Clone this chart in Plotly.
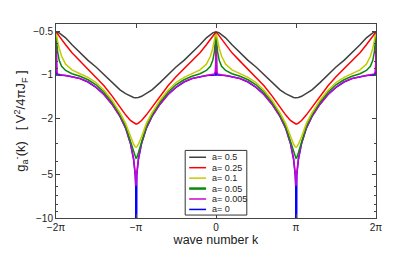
import plotly.graph_objects as go

# wave number k in units of pi
k_over_pi = [
    -2, -1.996, -1.99, -1.98, -1.96, -1.93, -1.88, -1.8, -1.7, -1.6, -1.5, -1.4, -1.3, -1.2, -1.13, -1.07, -1.03, -1.01, -1.003, -1.0,
    -0.997, -0.99, -0.97, -0.93, -0.87, -0.8, -0.7, -0.6, -0.5, -0.4, -0.3, -0.2, -0.12, -0.07, -0.04, -0.02, -0.01, -0.004, 0,
    0.004, 0.01, 0.02, 0.04, 0.07, 0.12, 0.2, 0.3, 0.4, 0.5, 0.6, 0.7, 0.8, 0.87, 0.93, 0.97, 0.99, 0.997, 1.0,
    1.003, 1.01, 1.03, 1.07, 1.13, 1.2, 1.3, 1.4, 1.5, 1.6, 1.7, 1.8, 1.88, 1.93, 1.96, 1.98, 1.99, 1.996, 2.0,
]

g_a_0p5 = [
    -0.5, -0.5, -0.5005, -0.502, -0.507, -0.52, -0.55, -0.615, -0.70, -0.79, -0.88, -0.99, -1.13, -1.27, -1.35, -1.41, -1.435, -1.44, -1.44, -1.44,
    -1.44, -1.44, -1.435, -1.41, -1.35, -1.27, -1.13, -0.99, -0.88, -0.79, -0.70, -0.615, -0.55, -0.52, -0.507, -0.502, -0.5005, -0.5, -0.5,
    -0.5, -0.5005, -0.502, -0.507, -0.52, -0.55, -0.615, -0.70, -0.79, -0.88, -0.99, -1.13, -1.27, -1.35, -1.41, -1.435, -1.44, -1.44, -1.44,
    -1.44, -1.44, -1.435, -1.41, -1.35, -1.27, -1.13, -0.99, -0.88, -0.79, -0.70, -0.615, -0.55, -0.52, -0.507, -0.502, -0.5005, -0.5, -0.5,
]

g_a_0p25 = [
    -0.5, -0.502, -0.506, -0.515, -0.535, -0.565, -0.615, -0.70, -0.80, -0.91, -1.03, -1.19, -1.4, -1.68, -1.9, -2.08, -2.17, -2.2, -2.2, -2.2,
    -2.2, -2.2, -2.17, -2.08, -1.9, -1.68, -1.4, -1.19, -1.03, -0.91, -0.80, -0.70, -0.615, -0.565, -0.535, -0.515, -0.506, -0.502, -0.5,
    -0.502, -0.506, -0.515, -0.535, -0.565, -0.615, -0.70, -0.80, -0.91, -1.03, -1.19, -1.4, -1.68, -1.9, -2.08, -2.17, -2.2, -2.2, -2.2,
    -2.2, -2.2, -2.17, -2.08, -1.9, -1.68, -1.4, -1.19, -1.03, -0.91, -0.80, -0.70, -0.615, -0.565, -0.535, -0.515, -0.506, -0.502, -0.5,
]

g_a_0p1 = [
    -0.5, -0.52, -0.545, -0.58, -0.65, -0.74, -0.84, -0.92, -0.98, -1.04, -1.13, -1.28, -1.5, -1.84, -2.18, -2.7, -3.05, -3.18, -3.2, -3.2,
    -3.2, -3.18, -3.05, -2.7, -2.18, -1.84, -1.5, -1.28, -1.13, -1.04, -0.98, -0.92, -0.84, -0.74, -0.65, -0.58, -0.545, -0.52, -0.5,
    -0.52, -0.545, -0.58, -0.65, -0.74, -0.84, -0.92, -0.98, -1.04, -1.13, -1.28, -1.5, -1.84, -2.18, -2.7, -3.05, -3.18, -3.2, -3.2,
    -3.2, -3.18, -3.05, -2.7, -2.18, -1.84, -1.5, -1.28, -1.13, -1.04, -0.98, -0.92, -0.84, -0.74, -0.65, -0.58, -0.545, -0.52, -0.5,
]

g_a_0p05 = [
    -0.5, -0.55, -0.61, -0.69, -0.79, -0.87, -0.93, -0.98, -1.02, -1.08, -1.17, -1.32, -1.55, -1.9, -2.28, -2.9, -3.5, -3.78, -3.82, -3.83,
    -3.82, -3.78, -3.5, -2.9, -2.28, -1.9, -1.55, -1.32, -1.17, -1.08, -1.02, -0.98, -0.93, -0.87, -0.79, -0.69, -0.61, -0.55, -0.5,
    -0.55, -0.61, -0.69, -0.79, -0.87, -0.93, -0.98, -1.02, -1.08, -1.17, -1.32, -1.55, -1.9, -2.28, -2.9, -3.5, -3.78, -3.82, -3.83,
    -3.82, -3.78, -3.5, -2.9, -2.28, -1.9, -1.55, -1.32, -1.17, -1.08, -1.02, -0.98, -0.93, -0.87, -0.79, -0.69, -0.61, -0.55, -0.5,
]

g_a_0p005 = [
    -0.5, -0.85, -0.95, -0.985, -0.995, -1.0, -1.008, -1.028, -1.058, -1.118, -1.218, -1.368, -1.6, -1.95, -2.35, -3.0, -3.85, -4.85, -5.7, -6.0,
    -5.7, -4.85, -3.85, -3.0, -2.35, -1.95, -1.6, -1.368, -1.218, -1.118, -1.058, -1.028, -1.008, -1.0, -0.995, -0.985, -0.95, -0.85, -0.5,
    -0.85, -0.95, -0.985, -0.995, -1.0, -1.008, -1.028, -1.058, -1.118, -1.218, -1.368, -1.6, -1.95, -2.35, -3.0, -3.85, -4.85, -5.7, -6.0,
    -5.7, -4.85, -3.85, -3.0, -2.35, -1.95, -1.6, -1.368, -1.218, -1.118, -1.058, -1.028, -1.008, -1.0, -0.995, -0.985, -0.95, -0.85, -0.5,
]

g_a_0 = [
    -0.5, -1.0, -1.0, -1.0, -1.0, -1.005, -1.01, -1.03, -1.06, -1.12, -1.22, -1.37, -1.6, -1.95, -2.35, -3.0, -3.9, -5.0, -6.2, -1000,
    -6.2, -5.0, -3.9, -3.0, -2.35, -1.95, -1.6, -1.37, -1.22, -1.12, -1.06, -1.03, -1.01, -1.005, -1.0, -1.0, -1.0, -1.0, -0.5,
    -1.0, -1.0, -1.0, -1.0, -1.005, -1.01, -1.03, -1.06, -1.12, -1.22, -1.37, -1.6, -1.95, -2.35, -3.0, -3.9, -5.0, -6.2, -1000,
    -6.2, -5.0, -3.9, -3.0, -2.35, -1.95, -1.6, -1.37, -1.22, -1.12, -1.06, -1.03, -1.01, -1.005, -1.0, -1.0, -1.0, -1.0, -0.5,
]

labels = ["a= 0.5", "a= 0.25", "a= 0.1", "a= 0.05", "a= 0.005", "a= 0"]
series = [g_a_0p5, g_a_0p25, g_a_0p1, g_a_0p05, g_a_0p005, g_a_0]
colors = ["#404040", "#ff0000", "#c8c800", "#0a8a0a", "#d000d0", "#0000ff"]

y_tickvals = [0.5, 1, 2, 5, 10]
y_ticktext = ["\u22120.5", "\u22121", "\u22122", "\u22125", "\u221210"]
x_tickvals = [-2, -1, 0, 1, 2]
x_ticktext = ["\u22122\u03c0", "\u2212\u03c0", "0", "\u03c0", "2\u03c0"]

FONT = "Liberation Sans, Arial, Helvetica, sans-serif"

fig = go.Figure()
# draw a=0 first, then small a to large a so magenta covers blue
for idx in [5, 4, 3, 2, 1, 0]:
    fig.add_trace(go.Scatter(
        x=k_over_pi, y=[-v for v in series[idx]], mode="lines",
        line=dict(color=colors[idx], width=1.5), name=labels[idx], showlegend=False,
    ))

# page body has an 8px margin; figure sized so that it fits the 415x255 window
OFF = 8
FW, FH = 415 - OFF, 255 - OFF
# plot area in window pixels
L, R, T, B = 54, 376, 24, 222
W, H = R - L, B - T
def px(x):
    return (x - L) / W
def py(y):
    return (B - y) / H

shapes = [dict(type="rect", xref="paper", yref="paper",
               x0=px(184), x1=px(246), y0=py(219), y1=py(153),
               line=dict(color="#333", width=1), fillcolor="white", layer="above")]
annotations = []
for i, (lab, col) in enumerate(zip(labels, colors)):
    yc = 160 + i * 10.65
    shapes.append(dict(type="line", xref="paper", yref="paper",
                       x0=px(188), x1=px(205), y0=py(yc), y1=py(yc),
                       line=dict(color=col, width=2.5 if i == 3 else 1.5), layer="above"))
    annotations.append(dict(xref="paper", yref="paper", x=px(208.5), y=py(yc),
                            text=lab, showarrow=False, xanchor="left", yanchor="middle",
                            font=dict(size=9, color="#222", family=FONT)))

axis_common = dict(showline=True, linecolor="#444", linewidth=1, mirror="allticks",
                   ticks="inside", ticklen=4, tickcolor="#444", showgrid=False,
                   zeroline=False, tickfont=dict(size=10, color="#222", family=FONT))

fig.update_layout(
    width=FW, height=FH,
    margin=dict(l=L - OFF, r=415 - R, t=T - OFF, b=255 - B),
    paper_bgcolor="white", plot_bgcolor="white",
    font=dict(family=FONT, color="#222"),
    showlegend=False,
    shapes=shapes, annotations=annotations,
    xaxis=dict(range=[-2, 2], tickmode="array", tickvals=x_tickvals, ticktext=x_ticktext,
               title=dict(text="wave number k", font=dict(size=12.5, family=FONT), standoff=1),
               **axis_common),
    yaxis=dict(type="log", range=[1, -0.3565], tickmode="array", tickvals=y_tickvals,
               ticktext=y_ticktext,
               minor=dict(ticks="inside", ticklen=2, tickcolor="#444", dtick="D1", showgrid=False),
               title=dict(text="g<sub>a</sub><sup>-</sup>(k)   [ V<sup>2</sup>/4\u03c0J<sub>F</sub> ]",
                          font=dict(size=13, family=FONT), standoff=4),
               **axis_common),
)

fig.write_html("out.html")
